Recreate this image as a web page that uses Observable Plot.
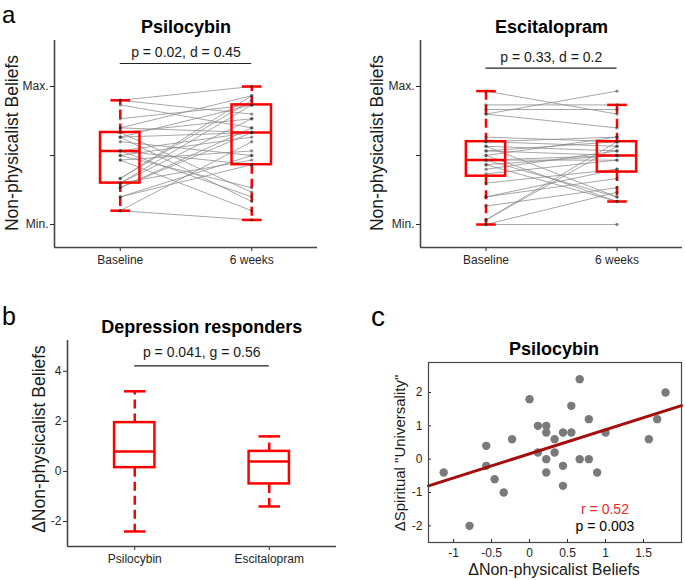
<!DOCTYPE html>
<html><head><meta charset="utf-8">
<script src="https://cdn.jsdelivr.net/npm/d3@7"></script>
<script src="https://cdn.jsdelivr.net/npm/@observablehq/plot@0.6"></script>
<style>
body{margin:0;background:#fff;}
#wrap{position:relative;width:685px;height:580px;overflow:hidden;font-family:"Liberation Sans",Arial,sans-serif;}
#wrap > svg{position:absolute;margin:0;}
</style></head><body><div id="wrap"></div>
<script>
// ---------- data ----------
const timepoints = ["Baseline", "6 weeks"];
const groups = ["Psilocybin", "Escitalopram"];
const yTickValuesA = [0, 15, 30];
const yTickLabelsA = ["Min.", "", "Max."];

// paired scores (index i = same participant), scale Min=0 .. Max=30
const psiBaseline = [27,27,26,23,21,21,20,20,19,19,19,18,16,16,16,15,15,14,14,10,10,9,9,9,8,8,6,6,3,3];
const psiWeek6    = [30,24,21,26,28,20,23,7,20,5,26,15,20,6,13,19,8,16,3,28,27,26,23,14,21,20,15,13,18,1];
const escBaseline = [29,26,25,24,24,19,18,18,17,17,16,16,15,15,14,14,14,13,13,12,11,9,6,6,4,1,1,0,0];
const escWeek6    = [24,26,25,29,21,18,19,17,16,6,18,15,19,5,15,14,6,15,5,16,14,12,12,10,8,18,17,7,0];

// box statistics [Baseline, 6 weeks]
const psiLow = [3, 1],  psiQ1 = [9, 13],   psiMed = [16, 20], psiQ3 = [20, 26], psiHigh = [27, 30];
const escLow = [0, 5],  escQ1 = [10.5, 11.4], escMed = [14, 15], escQ3 = [18, 18], escHigh = [29, 26];

// responders change [Psilocybin, Escitalopram]
const respLow = [-2.4, -1.4], respQ1 = [0.15, -0.5], respMed = [0.8, 0.4], respQ3 = [1.95, 0.8], respHigh = [3.2, 1.4];
const yTicksB = [-2, 0, 2, 4];

// significance bars (y in data units)
const sigA1 = [35], sigA2 = [34], sigB = [4.22];

// panel c scatter
const dNonPhys = [-1.13,-0.79,-0.57,-0.57,-0.46,-0.34,-0.23,0,0.11,0.11,0.22,0.22,0.22,0.22,0.33,0.33,0.44,0.44,0.44,0.55,0.55,0.66,0.66,0.78,0.78,0.89,1.0,1.57,1.68,1.79];
const dUniv    = [-0.4,-2.0,0.4,-0.2,-0.6,-1.0,0.6,1.8,1.0,0.2,1.0,0.8,0,-0.4,0.6,0.2,0.8,-0.2,-0.8,1.6,0.8,2.4,0,1.2,0,-0.4,0.8,0.6,1.2,2.0];
const xTicksC = [-1, -0.5, 0, 0.5, 1, 1.5];
const yTicksC = [-2, -1, 0, 1, 2];

// ---------- helpers ----------
const FONT = '"Liberation Sans", Arial, sans-serif';
const wrap = document.getElementById("wrap");
const RED = "#ff0000";
const AX = "#454545";

function place(svg, left, top) {
  svg.style.left = left + "px";
  svg.style.top = top + "px";
  wrap.appendChild(svg);
}

function boxMarks(low, q1, med, q3, high, halfW, capHalf) {
  const b = low.map((_, i) => ({x: i + 1, low: low[i], q1: q1[i], med: med[i], q3: q3[i], high: high[i]}));
  return [
    Plot.link(b, {x1: "x", x2: "x", y1: "q3", y2: "high", stroke: RED, strokeWidth: 2.5, strokeDasharray: "9,5"}),
    Plot.link(b, {x1: "x", x2: "x", y1: "q1", y2: "low", stroke: RED, strokeWidth: 2.5, strokeDasharray: "9,5"}),
    Plot.link(b, {x1: d => d.x - capHalf, x2: d => d.x + capHalf, y1: "high", y2: "high", stroke: RED, strokeWidth: 2.5}),
    Plot.link(b, {x1: d => d.x - capHalf, x2: d => d.x + capHalf, y1: "low", y2: "low", stroke: RED, strokeWidth: 2.5}),
    Plot.rect(b, {x1: d => d.x - halfW, x2: d => d.x + halfW, y1: "q1", y2: "q3", fill: "none", stroke: RED, strokeWidth: 2.5}),
    Plot.link(b, {x1: d => d.x - halfW, x2: d => d.x + halfW, y1: "med", y2: "med", stroke: RED, strokeWidth: 2.5})
  ];
}

function pairedPanel(base, wk6, st, sig, marginLeft, marginRight, width) {
  const pairs = base.map((b, i) => ({b, w: wk6[i]}));
  const pts = [...base.map(v => ({x: 1, y: v})), ...wk6.map(v => ({x: 2, y: v}))];
  return Plot.plot({
    width, height: 280,
    marginLeft, marginRight, marginTop: 40, marginBottom: 33,
    style: {fontFamily: FONT, fontSize: "12px", color: "#262626", background: "transparent", overflow: "visible"},
    x: {domain: [0.5, 2.5], ticks: [1, 2], tickFormat: d => timepoints[d - 1], tickSize: 4, tickPadding: 4, label: null},
    y: {domain: [-5, 40], ticks: yTickValuesA, tickFormat: d => yTickLabelsA[yTickValuesA.indexOf(d)], tickSize: 4, tickPadding: 2, label: null},
    marks: [
      Plot.link(pairs, {x1: () => 1, x2: () => 2, y1: "b", y2: "w", stroke: "#8a8a8a", strokeOpacity: 0.75, strokeWidth: 1}),
      ...boxMarks(st[0], st[1], st[2], st[3], st[4], 0.15, 0.075),
      Plot.dot(pts, {x: "x", y: "y", r: 1.7, fill: "#2a2a2a", fillOpacity: 0.5}),
      Plot.ruleX([0.5], {stroke: AX, strokeWidth: 1.6}),
      Plot.ruleY([-5], {stroke: AX, strokeWidth: 1.6}),
      Plot.ruleY(sig, {x1: 1, x2: 2, stroke: "#222", strokeWidth: 1.2})
    ]
  });
}

// ---------- panel a ----------
place(pairedPanel(psiBaseline, psiWeek6, [psiLow, psiQ1, psiMed, psiQ3, psiHigh], sigA1, 54, 23, 340), 0, 0);
place(pairedPanel(escBaseline, escWeek6, [escLow, escQ1, escMed, escQ3, escHigh], sigA2, 80, 3, 345), 340, 0);

// ---------- panel b ----------
place(Plot.plot({
  width: 340, height: 290,
  marginLeft: 67, marginRight: 4, marginTop: 50, marginBottom: 34,
  style: {fontFamily: FONT, fontSize: "12px", color: "#262626", background: "transparent", overflow: "visible"},
  x: {domain: [0.5, 2.5], ticks: [1, 2], tickFormat: d => groups[d - 1], tickSize: 4, tickPadding: 4, label: null},
  y: {domain: [-3, 5.23], ticks: yTicksB, tickFormat: d => String(d), tickSize: 4, tickPadding: 2, label: null},
  marks: [
    ...boxMarks(respLow, respQ1, respMed, respQ3, respHigh, 0.15, 0.08),
    Plot.ruleX([0.5], {stroke: AX, strokeWidth: 1.6}),
    Plot.ruleY([-3], {stroke: AX, strokeWidth: 1.6}),
    Plot.ruleY(sigB, {x1: 1, x2: 2, stroke: "#222", strokeWidth: 1.2})
  ]
}), 0, 290);

// ---------- panel c ----------
const scatter = dNonPhys.map((x, i) => ({x, y: dUniv[i]}));
const mx = d3.mean(dNonPhys), my = d3.mean(dUniv);
const slope = d3.sum(scatter, d => (d.x - mx) * (d.y - my)) / d3.sum(scatter, d => (d.x - mx) ** 2);
const intercept = my - slope * mx;
const xDomC = [-1.33, 2];
const fitLine = xDomC.map(x => ({x, y: intercept + slope * x}));

place(Plot.plot({
  width: 345, height: 290,
  marginLeft: 88, marginRight: 4, marginTop: 72, marginBottom: 38,
  style: {fontFamily: FONT, fontSize: "12px", color: "#262626", background: "transparent", overflow: "visible"},
  x: {domain: xDomC, ticks: xTicksC, tickFormat: d => String(d), tickSize: -3, tickPadding: 9, label: null},
  y: {domain: [-2.5, 2.9], ticks: yTicksC, tickFormat: d => String(d), tickSize: -3, tickPadding: 9, label: null},
  marks: [
    Plot.dot(scatter, {x: "x", y: "y", r: 4.2, fill: "#7a7a7a", stroke: "none"}),
    Plot.line(fitLine, {x: "x", y: "y", stroke: "#a50d0d", strokeWidth: 3}),
    Plot.frame({stroke: AX, strokeWidth: 1.2})
  ]
}), 340, 290);

// ---------- overlay texts ----------
const NS = "http://www.w3.org/2000/svg";
const ov = document.createElementNS(NS, "svg");
ov.setAttribute("width", 685); ov.setAttribute("height", 580);
ov.style.left = "0px"; ov.style.top = "0px"; ov.style.pointerEvents = "none";
ov.setAttribute("font-family", FONT);
function txt(s, x, y, o = {}) {
  const t = document.createElementNS(NS, "text");
  t.textContent = s;
  t.setAttribute("x", 0); t.setAttribute("y", 0);
  t.setAttribute("transform", `translate(${x},${y})` + (o.rotate ? ` rotate(${o.rotate})` : ""));
  t.setAttribute("font-size", o.size || 12);
  t.setAttribute("font-weight", o.weight || "normal");
  t.setAttribute("text-anchor", o.anchor || "middle");
  t.setAttribute("fill", o.fill || "#000");
  ov.appendChild(t);
}
// panel letters
txt("a", 2, 23, {size: 24, anchor: "start"});
txt("b", 2, 325, {size: 25, anchor: "start"});
txt("c", 371, 326, {size: 28, anchor: "start"});
// titles
txt("Psilocybin", 186, 33, {size: 18, weight: "bold"});
txt("Escitalopram", 551.5, 33, {size: 18, weight: "bold"});
txt("Depression responders", 201.7, 333, {size: 18, weight: "bold"});
txt("Psilocybin", 554, 355, {size: 18, weight: "bold"});
// stats
txt("p = 0.02, d = 0.45", 186, 56.5, {size: 14, fill: "#1a1a1a"});
txt("p = 0.33, d = 0.2", 551.3, 61.5, {size: 14, fill: "#1a1a1a"});
txt("p = 0.041, g = 0.56", 201.7, 356.5, {size: 14, fill: "#1a1a1a"});
txt("r = 0.52", 605, 514, {size: 14, fill: "#f02828"});
txt("p = 0.003", 605, 530.5, {size: 14, fill: "#000"});
// axis labels
txt("Non-physicalist Beliefs", 17.5, 143, {size: 17.5, rotate: -90, fill: "#1a1a1a"});
txt("Non-physicalist Beliefs", 383, 143, {size: 17.5, rotate: -90, fill: "#1a1a1a"});
txt("\u0394Non-physicalist Beliefs", 44.5, 439, {size: 17.5, rotate: -90, fill: "#1a1a1a"});
txt("\u0394Spiritual \"Universality\"", 405, 453, {size: 15, rotate: -90, fill: "#1a1a1a"});
txt("\u0394Non-physicalist Beliefs", 554, 575, {size: 16, fill: "#1a1a1a"});
wrap.appendChild(ov);
</script></body></html>
